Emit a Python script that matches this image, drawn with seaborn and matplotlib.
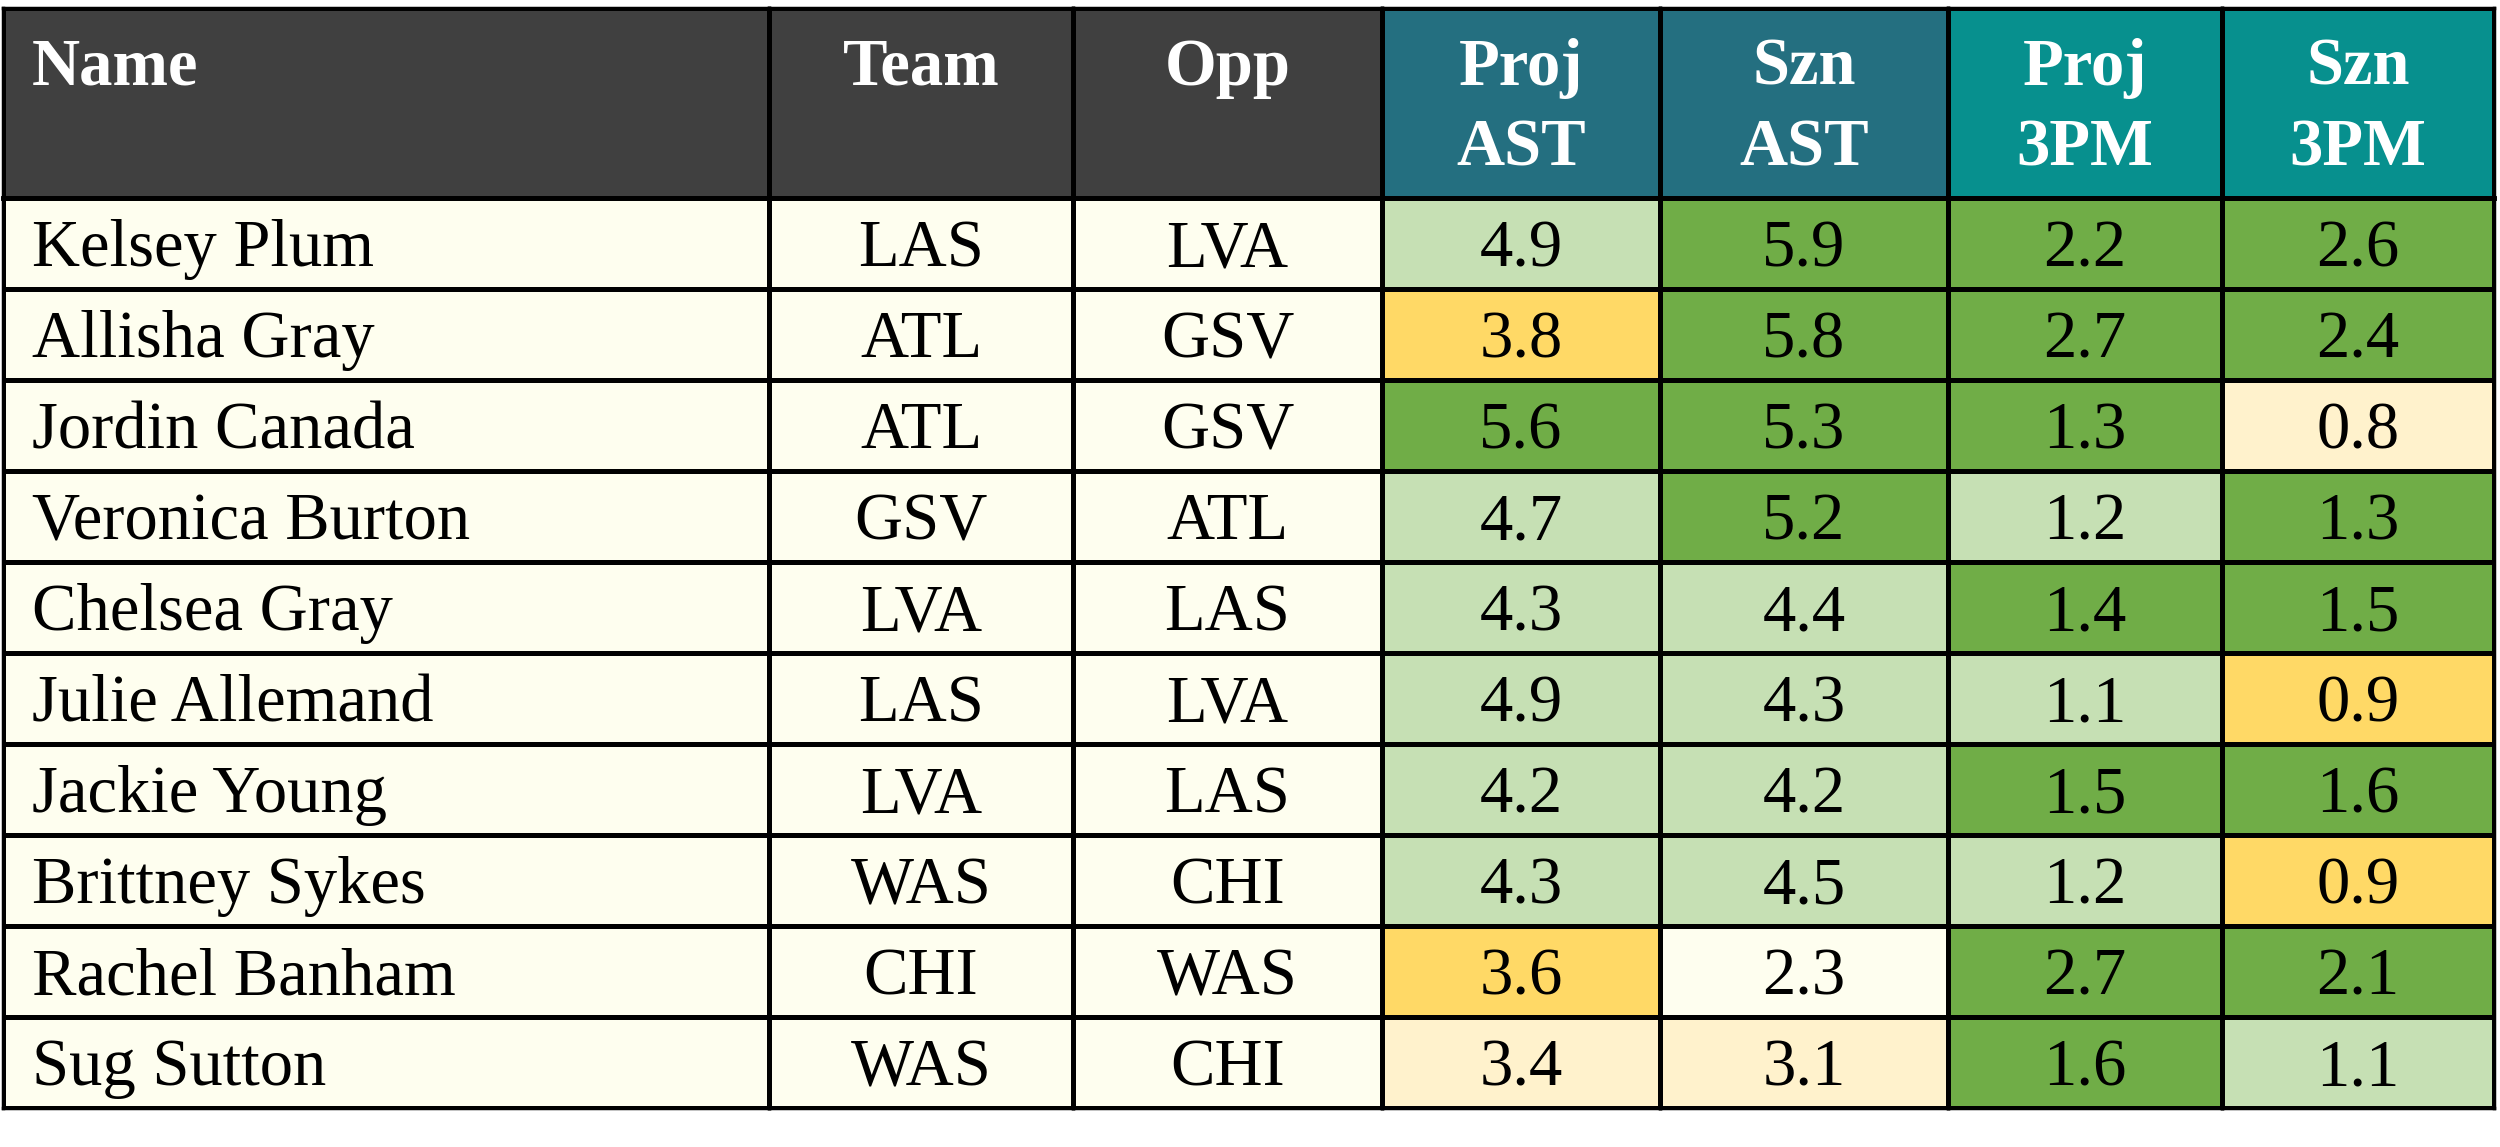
import numpy as np
import seaborn as sns
import matplotlib.pyplot as plt
from matplotlib.colors import ListedColormap

# Table data
names = ["Kelsey Plum", "Allisha Gray", "Jordin Canada", "Veronica Burton", "Chelsea Gray",
         "Julie Allemand", "Jackie Young", "Brittney Sykes", "Rachel Banham", "Sug Sutton"]
teams = ["LAS", "ATL", "ATL", "GSV", "LVA", "LAS", "LVA", "WAS", "CHI", "WAS"]
opps = ["LVA", "GSV", "GSV", "ATL", "LAS", "LVA", "LAS", "CHI", "WAS", "CHI"]
proj_ast = [4.9, 3.8, 5.6, 4.7, 4.3, 4.9, 4.2, 4.3, 3.6, 3.4]
szn_ast = [5.9, 5.8, 5.3, 5.2, 4.4, 4.3, 4.2, 4.5, 2.3, 3.1]
proj_3pm = [2.2, 2.7, 1.3, 1.2, 1.4, 1.1, 1.5, 1.2, 2.7, 1.6]
szn_3pm = [2.6, 2.4, 0.8, 1.3, 1.5, 0.9, 1.6, 0.9, 2.1, 1.1]

# cell shade per value (0 cream, 1 pale yellow, 2 yellow, 3 pale green, 4 green)
proj_ast_shade = [3, 2, 4, 3, 3, 3, 3, 3, 2, 1]
szn_ast_shade = [4, 4, 4, 4, 3, 3, 3, 3, 0, 1]
proj_3pm_shade = [4, 4, 4, 3, 4, 3, 4, 3, 4, 4]
szn_3pm_shade = [4, 4, 1, 4, 4, 2, 4, 2, 4, 3]

headers = [["Name"], ["Team"], ["Opp"], ["Proj", "AST"], ["Szn", "AST"],
           ["Proj", "3PM"], ["Szn", "3PM"]]
header_shade = [5, 5, 5, 6, 6, 7, 7]

palette = ["#FEFEEF", "#FFF2CC", "#FFD966", "#C6E0B4", "#70AD47",
           "#404040", "#246F80", "#07908E"]
cmap = ListedColormap(palette)

plt.rcParams['font.family'] = ['Liberation Serif', 'DejaVu Serif']

W, H = 2500, 1147
fig = plt.figure(figsize=(W / 100, H / 100), dpi=100)

col_edges = [3, 769, 1073, 1382, 1660, 1948, 2222, 2494]
top, head_bot, bottom = 8, 198, 1108
fs = 48
lw = 2.5

columns = [
    (names, [0] * 10),
    (teams, [0] * 10),
    (opps, [0] * 10),
    (proj_ast, proj_ast_shade),
    (szn_ast, szn_ast_shade),
    (proj_3pm, proj_3pm_shade),
    (szn_3pm, szn_3pm_shade),
]


def make_ax(x0, x1, y0, y1):
    return fig.add_axes([x0 / W, (H - y1) / H, (x1 - x0) / W, (y1 - y0) / H])


def frame(ax):
    for s in ax.spines.values():
        s.set_visible(True)
        s.set_linewidth(lw)
        s.set_color('black')


# baselines of the two header lines, as fractions of the header height
head_lines = [0.405, 0.83]

for i, (vals, shade) in enumerate(columns):
    x0, x1 = col_edges[i], col_edges[i + 1]
    tx = 0.038 if i == 0 else 0.5
    ha = 'left' if i == 0 else 'center'

    # header cell
    hax = make_ax(x0, x1, top, head_bot)
    sns.heatmap(np.array([[header_shade[i]]]), ax=hax, cmap=cmap, vmin=-0.5, vmax=7.5,
                cbar=False, xticklabels=False, yticklabels=False,
                linewidths=lw, linecolor='black')
    frame(hax)
    for k, line in enumerate(headers[i]):
        hax.text(tx, head_lines[k], line, ha=ha, va='baseline', color='white',
                 fontsize=fs, fontweight='bold')

    # body cells
    bax = make_ax(x0, x1, head_bot, bottom)
    codes = np.array(shade).reshape(-1, 1)
    sns.heatmap(codes, ax=bax, cmap=cmap, vmin=-0.5, vmax=7.5, cbar=False,
                xticklabels=False, yticklabels=False,
                linewidths=lw, linecolor='black')
    for r, v in enumerate(vals):
        label = v if i < 3 else f"{v:.1f}"
        bax.text(tx, r + 0.75, label, ha=ha, va='baseline',
                 fontsize=fs, color='black')
    frame(bax)
    bax.spines['top'].set_linewidth(lw * 1.4)

fig.savefig("out.png", dpi=100, facecolor='white')
